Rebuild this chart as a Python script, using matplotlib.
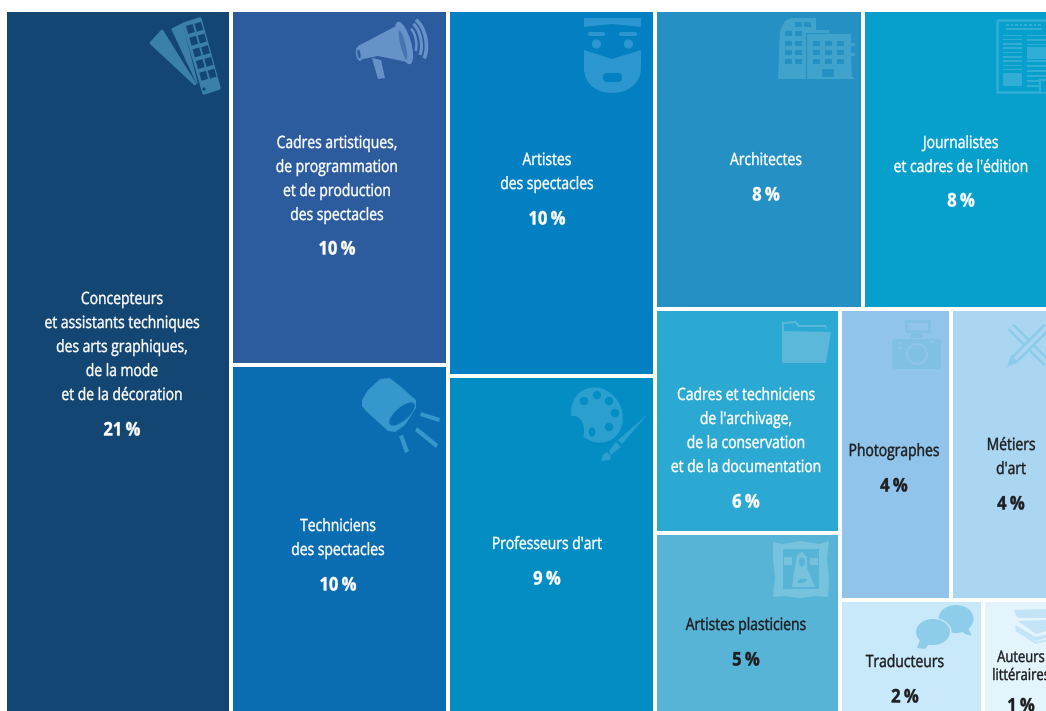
"""Treemap des professions culturelles, avec pictogrammes dans chaque tuile."""

import matplotlib

matplotlib.use("Agg")
import matplotlib.patheffects as pe
import matplotlib.pyplot as plt
from matplotlib.patches import Arc, Circle, Ellipse, FancyBboxPatch, PathPatch, Polygon, Rectangle
from matplotlib.path import Path
from matplotlib.transforms import Affine2D

# aires relatives (les pourcentages affichés sont arrondis)
metiers = [
    "Concepteurs\net assistants techniques\ndes arts graphiques,\nde la mode\net de la décoration",
    "Cadres artistiques,\nde programmation\net de production\ndes spectacles",
    "Techniciens\ndes spectacles",
    "Artistes\ndes spectacles",
    "Professeurs d'art",
    "Architectes",
    "Journalistes\net cadres de l'édition",
    "Cadres et techniciens\nde l'archivage,\nde la conservation\net de la documentation",
    "Artistes plasticiens",
    "Photographes",
    "Métiers\nd'art",
    "Traducteurs",
    "Auteurs\nlittéraires",
]
pourcents = [21, 10, 10, 10, 9, 8, 8, 6, 5, 4, 4, 2, 1]
aires = [158.9, 77.0, 75.5, 75.8, 69.8, 62.2, 55.3, 41.4, 33.3, 32.3, 28.2, 16.2, 7.3]

couleurs = ["#134673", "#2c5c9e", "#0a6cb1", "#0280c1", "#038dc3", "#2490c3", "#07a0cd",
            "#2ca9d3", "#57b4d7", "#90c4ea", "#abd6f1", "#c7e9fa", "#e3f4fc"]
icones = ["#3a80a8", "#6593c9", "#3597cb", "#2b96cf", "#2a9fd0", "#3fa3cc", "#30aed5",
          "#5bb8db", "#77c3de", "#7fc0e3", "#8ccbea", "#8ecde9", "#c3e3f6"]

# centre x du texte et y de la première ligne, pour chaque tuile
texte_x = [122, 337, 338, 547, 547, 766, 961, 746, 746, 894, 1011, 905, 1021]
texte_y = [298, 142, 525, 159, 543, 159, 142, 394, 624, 450, 444, 661, 656]
pct_y = [428, 247, 583, 217, 577, 193, 199, 500, 658, 484, 502, 695, 704]

# découpage en tranches : (sens, enfants), les feuilles sont les indices des métiers
ARBRE = ("h", [0, ("v", [1, 2]), ("v", [3, 4]),
               ("v", [("h", [5, 6]),
                      ("h", [("v", [7, 8]),
                             ("v", [("h", [9, 10]), ("h", [11, 12])])])])])
GAP = 4

plt.rcParams["font.family"] = ["Open Sans", "DejaVu Sans"]


class Etroit(pe.AbstractPathEffect):
    """Resserre le texte en largeur autour de son centre (police condensée absente)."""

    def __init__(self, sx, gras=0.3):
        super().__init__()
        self.sx = sx
        self.gras = gras

    def draw_path(self, renderer, gc, tpath, affine, rgbFace=None):
        b = tpath.get_extents()
        cx = (b.x0 + b.x1) / 2
        serre = Affine2D().translate(-cx, 0).scale(self.sx, 1).translate(cx, 0)
        gc0 = renderer.new_gc()
        gc0.copy_properties(gc)
        gc0.set_linewidth(self.gras)
        gc0.set_foreground(rgbFace)
        renderer.draw_path(gc0, tpath, serre + affine, rgbFace)
        gc0.restore()


def somme(noeud):
    if isinstance(noeud, int):
        return aires[noeud]
    return sum(somme(n) for n in noeud[1])


def decoupe(noeud, x, y, w, h, sortie):
    """Répartit le rectangle entre les enfants, au prorata des aires."""
    if isinstance(noeud, int):
        sortie[noeud] = (x, y, w - GAP, h - GAP)
        return
    sens, enfants = noeud
    total = somme(noeud)
    for enfant in enfants:
        part = somme(enfant) / total
        if sens == "h":
            decoupe(enfant, x, y, w * part, h, sortie)
            x += w * part
        else:
            decoupe(enfant, x, y, w, h * part, sortie)
            y += h * part


def poly(ax, pts, c, **kw):
    ax.add_patch(Polygon(pts, closed=True, fc=c, ec=kw.pop("ec", "none"), **kw))


def trait(ax, x0, y0, x1, y1, c, lw=2.0, cap="butt"):
    ax.plot([x0, x1], [y0, y1], color=c, lw=lw, solid_capstyle=cap)


def rond(ax, x, y, w, h, r, c, **kw):
    ax.add_patch(FancyBboxPatch((x + r, y + r), w - 2 * r, h - 2 * r,
                                boxstyle=f"round,pad={r},rounding_size={r}", fc=c, ec="none", **kw))


def nuancier(ax, c, f):
    poly(ax, [(151, 43), (162, 31), (195, 84)], c, ec=c, lw=2, joinstyle="round")
    poly(ax, [(172, 29), (182, 24), (197, 83)], c, ec=c, lw=1, joinstyle="round")
    poly(ax, [(184, 24), (200, 19), (219, 88), (204, 93)], c, ec=c, lw=2.5, joinstyle="round")
    for rang in range(5):
        for col in range(2):
            x = 186 + rang * 3.3 + col * 8.5
            y = 26 + rang * 11.7 - col * 2.2
            poly(ax, [(x, y), (x + 6.6, y - 2), (x + 8.8, y + 6), (x + 2.2, y + 8)], f)
    ax.add_patch(Circle((204, 89), 1.6, fc=f, ec="none"))


def megaphone(ax, c, f):
    poly(ax, [(358, 46), (398, 25), (412, 63), (378, 56), (358, 60)], c)
    ax.add_patch(Ellipse((404, 43), 14, 44, angle=-16, fc=c, ec="none"))
    ax.add_patch(Ellipse((403, 45), 5, 30, angle=-14, fc=f, ec="none", alpha=0.55))
    ax.add_patch(Ellipse((359, 54), 6, 14, angle=-10, fc=c, ec="none"))
    ax.add_patch(Ellipse((359, 54), 3, 9, angle=-10, fc=f, ec="none"))
    poly(ax, [(372, 58), (381, 60), (385, 78), (378, 79)], c)
    for cx, larg, haut, lw in [(410, 12, 28, 1.8), (412, 18, 38, 2.2), (414, 24, 46, 2.6)]:
        ax.add_patch(Arc((cx, 41), larg, haut, angle=-10, theta1=-75, theta2=70, color=c, lw=lw))


def projecteur(ax, c, f):
    poly(ax, [(362, 400), (368, 390), (380, 379), (390, 378), (400, 386), (416, 400), (416, 408),
              (405, 425), (395, 432), (388, 431), (366, 411), (362, 406)], c)
    ax.add_patch(Ellipse((402, 414), 13, 32, angle=49, fc=f, ec="none"))
    poly(ax, [(421, 412), (440, 418), (439, 422), (420, 416)], c)
    poly(ax, [(417, 427), (438, 444), (436, 448), (415, 431)], c)
    poly(ax, [(399, 436), (403, 435), (409, 451), (405, 453)], c)


def visage(ax, c, f):
    poly(ax, [(584, 18), (641, 18), (641, 27), (612, 24), (584, 27)], c)
    trait(ax, 590, 34, 603, 34, c, lw=3, cap="round")
    trait(ax, 621, 34, 635, 34, c, lw=3, cap="round")
    ax.add_patch(Circle((596.5, 44), 4.6, fc=c, ec="none"))
    ax.add_patch(Circle((628.5, 44), 4.6, fc=c, ec="none"))
    verts = [(584, 50), (612, 59), (641, 50), (641, 68), (641, 85), (626, 93), (612, 93),
             (598, 93), (584, 85), (584, 68), (584, 50)]
    codes = [Path.MOVETO, Path.LINETO, Path.LINETO, Path.LINETO, Path.CURVE4, Path.CURVE4,
             Path.CURVE4, Path.CURVE4, Path.CURVE4, Path.CURVE4, Path.LINETO]
    ax.add_patch(PathPatch(Path(verts, codes), fc=c, ec="none"))
    rond(ax, 603, 73, 19, 9, 4.4, f)


def immeubles(ax, c, f):
    poly(ax, [(778, 78), (780, 30), (785, 21), (791, 18), (816, 18), (816, 30), (829, 30),
              (829, 33), (806, 33), (806, 78)], c)
    poly(ax, [(806, 34), (851, 34), (851, 43), (855, 43), (855, 46), (851, 46), (851, 53),
              (855, 53), (855, 56), (851, 56), (852, 78), (834, 78), (834, 69), (822, 69),
              (822, 78), (806, 78)], c)
    ax.add_patch(Rectangle((778, 77), 76, 1.6, fc=c, ec="none"))
    trait(ax, 805.5, 33, 805.5, 78, f, lw=0.8)
    for y in [31, 40.5, 50, 59]:
        for x in [785, 795]:
            ax.add_patch(Rectangle((x, y), 7, 5, fc=f, ec="none"))
    for x in [795, 804]:
        ax.add_patch(Rectangle((x, 22), 7, 5, fc=f, ec="none"))
    for y in [41, 50, 59]:
        for x in [813, 825, 837]:
            ax.add_patch(Rectangle((x, y), 7, 5, fc=f, ec="none"))


def journal(ax, c, f):
    ax.add_patch(Rectangle((997, 19.5), 60, 72, fc="none", ec=c, lw=1.8))
    for i in range(8):
        ax.add_patch(Rectangle((1006 + i * 4.6, 23.5), 2.6, 2.4, fc=c, ec="none"))
    ax.add_patch(Rectangle((1006, 28), 36, 1.8, fc=c, ec="none"))
    for i in range(9):
        ax.add_patch(Rectangle((1003, 34.5 + i * 4.3), 19, 1.6, fc=c, ec="none"))
    ax.add_patch(Rectangle((1003, 73), 19, 13, fc=c, ec="none"))
    for y in [34.5, 39, 43.5, 60, 65, 70, 75, 80, 85]:
        ax.add_patch(Rectangle((1027, y), 22, 1.6, fc=c, ec="none"))
    ax.add_patch(Rectangle((1027, 47), 22, 12, fc=c, ec="none"))
    poly(ax, [(1040, 92), (1040, 80), (1050, 80), (1050, 92)], f)
    poly(ax, [(1039, 92), (1039, 79), (1050, 79), (1050, 81), (1041, 81), (1041, 92)], c)


def dossier(ax, c, f):
    poly(ax, [(782, 362), (782, 322), (796, 321), (799, 325), (826, 325), (827, 331),
              (825, 327), (798, 327), (795, 323), (784, 324), (784, 362)], c)
    poly(ax, [(784, 331), (831, 332), (826, 363), (783, 363)], c)


def appareil(ax, c, f):
    ax.add_patch(Rectangle((906, 321), 23, 10, fc="none", ec=c, lw=1.8))
    ax.add_patch(Rectangle((911, 333), 12, 5, fc=c, ec="none"))
    rond(ax, 892, 339, 49, 30, 4, c)
    ax.add_patch(Circle((917, 354), 10, fc="none", ec=f, lw=1.5))
    for y in [343, 348]:
        ax.add_patch(Circle((900, y), 1.7, fc=f, ec="none"))
    ax.add_patch(Rectangle((930, 341), 5, 2, fc=f, ec="none"))


def outils(ax, c, f):
    trait(ax, 1011, 327, 1048, 364, c, lw=6.5)
    trait(ax, 1011, 327, 1048, 364, f, lw=2.8)
    trait(ax, 1048, 326, 1015, 359, c, lw=6.5)
    trait(ax, 1048, 326, 1015, 359, f, lw=2.8)
    poly(ax, [(1007, 367), (1011, 355), (1019, 362)], c)


def cadre(ax, c, f):
    poly(ax, [(773, 542), (783, 544), (801, 541), (819, 544), (829, 541), (827, 558), (829, 578),
              (828, 597), (816, 596), (800, 598), (783, 596), (773, 597), (775, 578), (773, 558)], c)
    ax.add_patch(Rectangle((783, 549), 36, 40, fc=f, ec="none"))
    ax.add_patch(Rectangle((784, 557), 8, 8, fc=c, ec="none"))
    ax.add_patch(Rectangle((810, 558), 8, 7, fc=c, ec="none"))
    poly(ax, [(792, 587), (795, 567), (797, 555), (802, 552), (807, 557), (807, 568), (815, 587)], c)
    ax.add_patch(Ellipse((802, 562), 6, 9, fc=f, ec="none"))
    ax.add_patch(Ellipse((802, 581), 10, 4, angle=-15, fc=f, ec="none"))


def bulles(ax, c, f):
    ax.add_patch(Ellipse((956, 619), 35, 28, fc=c, ec="none"))
    poly(ax, [(960, 630), (968, 628), (972, 636), (965, 634)], c)
    ax.add_patch(Ellipse((933, 632), 37, 28, fc=f, ec="none"))
    ax.add_patch(Ellipse((933, 632), 34, 26, fc=c, ec="none"))
    poly(ax, [(920, 640), (929, 644), (925, 649), (917, 648)], c)


def livres(ax, c, f):
    poly(ax, [(1014, 610), (1046, 609), (1046, 618), (1020, 618), (1016, 616)], c)
    poly(ax, [(1018, 621), (1046, 620), (1046, 631), (1036, 634)], c)
    poly(ax, [(1015, 625), (1036, 637), (1048, 634), (1048, 637), (1036, 641), (1016, 630)], c)
    trait(ax, 1016, 630, 1036, 643, c, lw=1.4)
    trait(ax, 1036, 643, 1048, 640, c, lw=1.4)


def palette(ax, c, f):
    ax.add_patch(Ellipse((597, 415), 50, 57, angle=-30, fc=c, ec="none"))
    ax.add_patch(Ellipse((574, 431), 20, 30, fc=f, ec="none"))
    for x, y in [(584, 401), (597, 395), (609, 401), (615, 413), (609, 427)]:
        ax.add_patch(Circle((x, y), 4.2, fc=f, ec="none"))
    ax.add_patch(Ellipse((592, 432), 6.5, 9.5, fc=f, ec="none"))
    poly(ax, [(648, 414), (622, 444), (618, 440)], c)
    poly(ax, [(616, 442), (621, 447), (611, 455), (609, 451)], c)
    poly(ax, [(607, 452), (611, 456), (610, 460), (601, 461), (603, 455)], c)


PICTOS = [nuancier, megaphone, projecteur, visage, palette, immeubles, journal,
          dossier, cadre, appareil, outils, bulles, livres]


def main():
    fig = plt.figure(figsize=(10.46, 7.11), dpi=100)
    ax = fig.add_axes([0, 0, 1, 1])
    ax.set_xlim(0, 1046)
    ax.set_ylim(711, 0)
    ax.axis("off")

    tuiles = {}
    decoupe(ARBRE, 7, 12, 1043, 703, tuiles)

    for i, (x, y, w, h) in sorted(tuiles.items()):
        ax.add_patch(Rectangle((x, y), w, h, fc=couleurs[i], ec="none"))
    for i in range(len(metiers)):
        PICTOS[i](ax, icones[i], couleurs[i])

    for i, nom in enumerate(metiers):
        teinte = "#ffffff" if i < 8 else "#1d1d1f"
        interligne = 18 if i == 12 else 24
        taille = 11.4 if i == 12 else 12.2
        for k, ligne in enumerate(nom.split("\n")):
            ax.text(texte_x[i], texte_y[i] + k * interligne, ligne, color=teinte,
                    fontsize=taille, ha="center", va="center_baseline",
                    path_effects=[Etroit(0.82)])
        ax.text(texte_x[i], pct_y[i], f"{pourcents[i]}\u2009%", color=teinte, fontsize=13.5,
                fontweight="bold", ha="center", va="center_baseline",
                path_effects=[Etroit(0.88)])

    fig.savefig("out.png", dpi=100)


if __name__ == "__main__":
    main()
